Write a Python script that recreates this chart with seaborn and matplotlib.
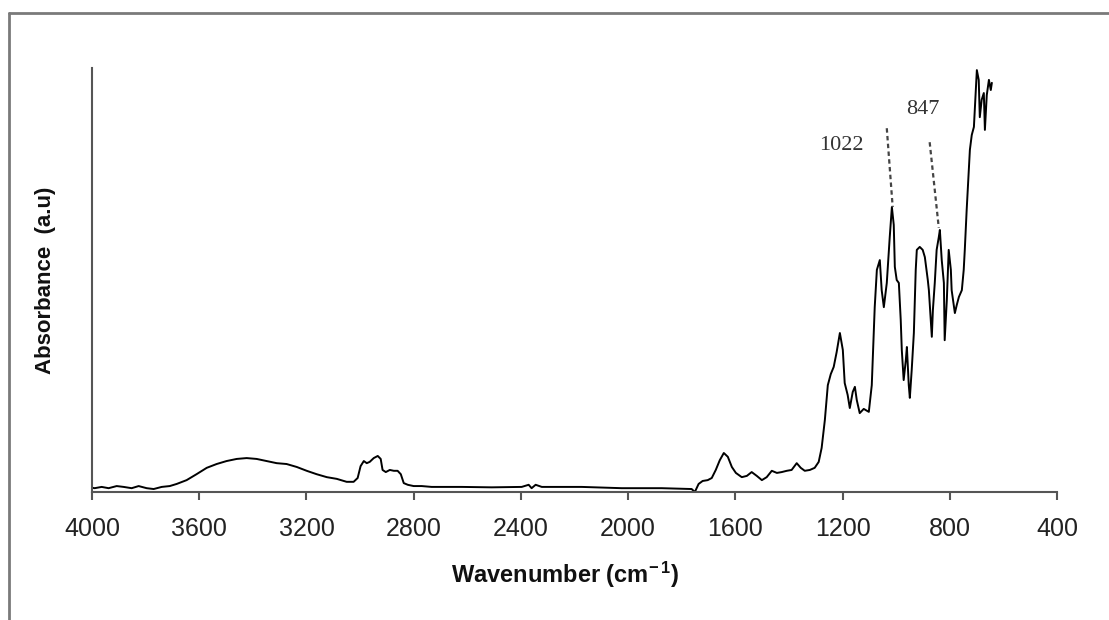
import matplotlib
matplotlib.use("Agg")
import matplotlib.pyplot as plt
from matplotlib.lines import Line2D
import seaborn as sns
import pandas as pd

# ---- data ----
wavenumber = [4000, 3990, 3964, 3938, 3908, 3882, 3852, 3826, 3796, 3770, 3740, 3710, 3684,
              3647, 3610, 3572, 3535, 3498, 3460, 3423, 3386, 3348, 3311, 3274, 3236, 3199,
              3162, 3124, 3087, 3050, 3024, 3009, 2998, 2986, 2975, 2964, 2949, 2934, 2923,
              2916, 2904, 2889, 2874, 2860, 2848, 2837, 2822, 2800, 2770, 2733, 2677, 2621,
              2509, 2397, 2371, 2360, 2345, 2322, 2173, 2024, 1875, 1763, 1751, 1737, 1722,
              1703, 1688, 1673, 1658, 1643, 1628, 1613, 1598, 1576, 1557, 1539, 1520, 1501,
              1483, 1464, 1445, 1427, 1408, 1390, 1371, 1356, 1341, 1322, 1304, 1289, 1278,
              1266, 1255, 1244, 1233, 1222, 1210, 1199, 1192, 1181, 1173, 1162, 1154, 1147,
              1136, 1121, 1102, 1091, 1080, 1072, 1061, 1054, 1046, 1035, 1024, 1016, 1009,
              1005, 998, 990, 983, 979, 972, 964, 960, 953, 949, 942, 934, 927, 923, 912,
              901, 893, 882, 878, 871, 867, 863, 856, 849, 841, 837, 830, 822, 819, 811,
              804, 796, 793, 785, 781, 774, 766, 755, 748, 744, 737, 725, 718, 710, 703,
              699, 692, 688, 681, 673, 669, 662, 654, 647, 643]
absorbance = [0.010, 0.009, 0.012, 0.009, 0.014, 0.012, 0.009, 0.014, 0.009, 0.007, 0.012,
              0.014, 0.019, 0.028, 0.042, 0.057, 0.066, 0.073, 0.078, 0.080, 0.078, 0.073,
              0.068, 0.066, 0.059, 0.050, 0.042, 0.035, 0.031, 0.024, 0.024, 0.033, 0.061,
              0.073, 0.068, 0.071, 0.080, 0.085, 0.078, 0.052, 0.047, 0.052, 0.050, 0.050,
              0.042, 0.021, 0.017, 0.014, 0.014, 0.012, 0.012, 0.012, 0.011, 0.012, 0.017,
              0.009, 0.017, 0.012, 0.012, 0.009, 0.009, 0.007, 0.000, 0.019, 0.026, 0.028,
              0.033, 0.052, 0.075, 0.092, 0.083, 0.059, 0.045, 0.035, 0.038, 0.047, 0.038,
              0.028, 0.035, 0.050, 0.045, 0.047, 0.050, 0.052, 0.068, 0.057, 0.050, 0.052,
              0.057, 0.071, 0.104, 0.170, 0.252, 0.278, 0.295, 0.330, 0.375, 0.335, 0.257,
              0.229, 0.198, 0.236, 0.248, 0.217, 0.186, 0.196, 0.189, 0.252, 0.436, 0.524,
              0.547, 0.476, 0.436, 0.493, 0.601, 0.672, 0.630, 0.531, 0.500, 0.493, 0.406,
              0.335, 0.264, 0.311, 0.342, 0.252, 0.222, 0.288, 0.375, 0.524, 0.571, 0.578,
              0.571, 0.554, 0.500, 0.476, 0.406, 0.366, 0.429, 0.493, 0.571, 0.601, 0.618,
              0.547, 0.493, 0.358, 0.453, 0.571, 0.524, 0.476, 0.441, 0.422, 0.441, 0.460,
              0.476, 0.524, 0.571, 0.665, 0.807, 0.842, 0.861, 0.948, 0.995, 0.972, 0.884,
              0.925, 0.941, 0.854, 0.936, 0.972, 0.948, 0.965]

x_ticks = [4000, 3600, 3200, 2800, 2400, 2000, 1600, 1200, 800, 400]

peak_labels = ["1022", "847"]
peak_label_pos = [(1203, 0.818), (901, 0.901)]
peak_line_start = [(1035, 0.858), (875, 0.825)]
peak_line_end = [(1013, 0.672), (841, 0.623)]

df = pd.DataFrame({"Wavenumber": wavenumber, "Absorbance": absorbance})

# ---- style ----
sns.set_theme(style="white")
plt.rcParams["font.family"] = ["Liberation Sans", "DejaVu Sans"]
plt.rcParams["mathtext.fontset"] = "custom"
plt.rcParams["mathtext.rm"] = "Liberation Sans:bold"
plt.rcParams["mathtext.it"] = "Liberation Sans:bold"
plt.rcParams["mathtext.bf"] = "Liberation Sans:bold"

W, H = 1109, 620
fig = plt.figure(figsize=(W / 100, H / 100), dpi=100)
fig.patch.set_facecolor("white")

left_px, right_px, top_px, bottom_px = 92, 1057, 68, 492
ax = fig.add_axes([left_px / W, 1 - bottom_px / H,
                   (right_px - left_px) / W, (bottom_px - top_px) / H])

sns.lineplot(data=df, x="Wavenumber", y="Absorbance", ax=ax, color="black",
             linewidth=1.4, estimator=None, sort=False)

ax.set_xlim(4000, 400)
ax.set_ylim(0, 1.0)
ax.set_xticks(x_ticks)
ax.set_xticklabels([str(t) for t in x_ticks])
ax.set_yticks([])

for s in ["top", "right"]:
    ax.spines[s].set_visible(False)
for s in ["left", "bottom"]:
    ax.spines[s].set_color("#555555")
    ax.spines[s].set_linewidth(1.5)

ax.tick_params(axis="x", direction="out", length=6, width=1.5, color="#555555",
               pad=12, labelsize=18, labelcolor="#222222", bottom=True)

ax.set_xlabel("Wavenumber (cm$^{-\\,1}$)", fontsize=17, fontweight="bold", color="#111111")
ax.xaxis.set_label_coords(0.49, -0.16)
ax.xaxis.label.set_va("top")
ax.set_ylabel("Absorbance  (a.u)", fontsize=16, fontweight="bold", color="#111111")
ax.yaxis.set_label_coords(-0.037, 0.5)

# peak annotations
for lab, (lx, ly), (sx, sy), (ex, ey) in zip(peak_labels, peak_label_pos,
                                               peak_line_start, peak_line_end):
    ax.text(lx, ly, lab, ha="center", va="center", fontsize=16,
            family=["Liberation Serif", "DejaVu Serif"], color="#333333")
    ax.plot([sx, ex], [sy, ey], color="#444444", linewidth=1.6,
            linestyle=(0, (2, 1.5)))

# outer frame (top and left edge)
fig.add_artist(Line2D([8.5 / W, 1.0], [1 - 12.5 / H, 1 - 12.5 / H],
                      transform=fig.transFigure, color="#7a7a7a", linewidth=2))
fig.add_artist(Line2D([8.5 / W, 8.5 / W], [0, 1 - 12.5 / H],
                      transform=fig.transFigure, color="#7a7a7a", linewidth=2))

fig.savefig("out.png", dpi=100, facecolor="white")
